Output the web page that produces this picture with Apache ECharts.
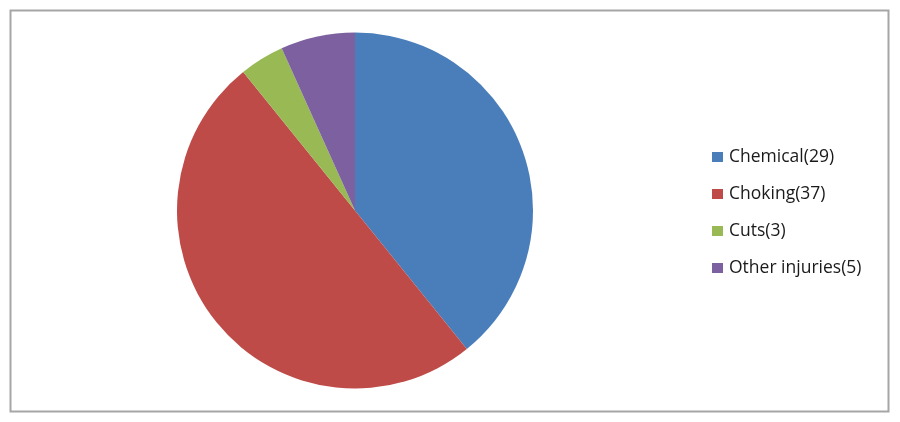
<!DOCTYPE html>
<html><head><meta charset="utf-8">
<script src="https://cdn.jsdelivr.net/npm/echarts@6/dist/echarts.min.js"></script>
<style>html,body{margin:0;padding:0;background:#fff}#c{width:900px;height:422px}</style>
</head><body><div id="c"></div>
<script>
const categories = ['Chemical(29)', 'Choking(37)', 'Cuts(3)', 'Other injuries(5)'];
const values = [29, 37, 3, 5];
const colors = ['#4A7EBB', '#BE4B48', '#98B954', '#7D60A0'];

const chart = echarts.init(document.getElementById('c'), null, {renderer: 'canvas'});
chart.setOption({
  animation: false,
  backgroundColor: '#ffffff',
  color: colors,
  graphic: [{
    type: 'rect', shape: {x: 10.5, y: 10.5, width: 878, height: 401},
    style: {fill: 'none', stroke: '#a6a6a6', lineWidth: 2}, silent: true
  }],
  legend: {
    orient: 'vertical', left: 712, top: 147, padding: 0,
    itemWidth: 11, itemHeight: 10, itemGap: 17,
    icon: 'rect',
    textStyle: {fontFamily: 'Open Sans', fontSize: 17.5, color: '#1a1a1a', lineHeight: 20, padding: [0,0,0,1]},
    data: categories
  },
  series: [{
    type: 'pie',
    center: [355, 210.5],
    radius: [0, 178],
    startAngle: 90,
    clockwise: true,
    label: {show: false}, labelLine: {show: false},
    itemStyle: {borderWidth: 0},
    emphasis: {disabled: true},
    data: categories.map((n, i) => ({name: n, value: values[i]}))
  }]
});
</script></body></html>
